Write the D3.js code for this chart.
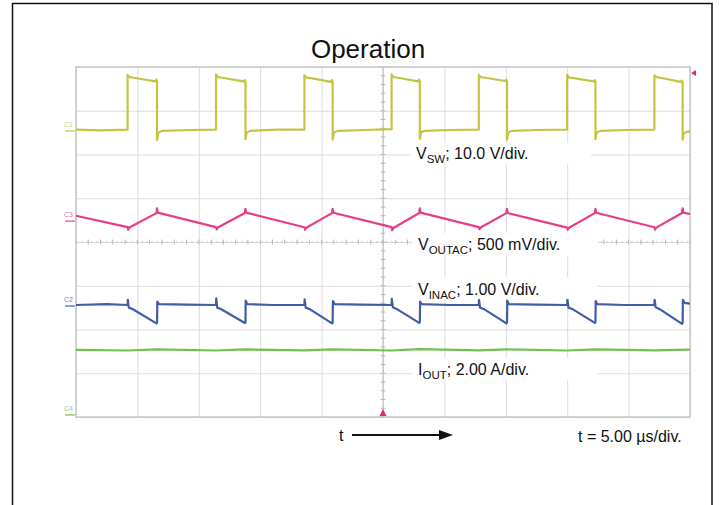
<!DOCTYPE html>
<html>
<head>
<meta charset="utf-8">
<script src="https://cdn.jsdelivr.net/npm/d3@7"></script>
<style>
body { margin: 0; background: #fff; }
svg text { font-family: "Liberation Sans", Arial, sans-serif; }
</style>
</head>
<body>
<script>
var w = 719;
var h = 505;

// scope grid: 10 div of 5 us, 8 div vertical
var timeGrid = [0, 5, 10, 15, 20, 25, 30, 35, 40, 45, 50];
var divGrid = [-4, -3, -2, -1, 0, 1, 2, 3, 4];

// C1 switch node, volts  [t us, V]
var vswPoints = [
  [0, 0.1], [2.0, -0.1], [4.2, 0.1], [4.2, 12.6], [4.35, 12.1], [4.6, 12.0], [6.45, 11.1], [6.55, 11.5], [6.6, 11.0], [6.6, -2.3], [6.7, -0.6], [7.0, -0.2], [9.5, 0.0],
  [11.4, 0.1], [11.4, 12.7], [11.55, 12.1], [11.8, 12.0], [13.65, 11.1], [13.75, 11.4], [13.8, 11.0], [13.8, -2.1], [13.9, -0.6], [14.2, -0.2], [16.5, 0.1],
  [18.6, 0.1], [18.6, 12.5], [18.75, 12.0], [19.0, 11.9], [20.75, 11.0], [20.85, 11.4], [20.9, 11.0], [20.9, -2.2], [21.0, -0.6], [21.3, -0.2], [23.5, 0.0],
  [25.7, 0.2], [25.7, 12.7], [25.85, 12.1], [26.1, 12.0], [27.85, 11.1], [27.95, 11.5], [28.0, 11.0], [28.0, -2.0], [28.1, -0.5], [28.4, -0.2], [30.5, 0.0],
  [32.8, 0.1], [32.8, 12.6], [32.95, 12.1], [33.2, 12.0], [34.95, 11.2], [35.05, 11.5], [35.1, 11.0], [35.1, -2.2], [35.2, -0.6], [35.5, -0.2], [37.5, 0.0],
  [40.0, 0.1], [40.0, 12.6], [40.15, 12.0], [40.4, 11.9], [42.15, 11.1], [42.25, 11.4], [42.3, 11.0], [42.3, -2.1], [42.4, -0.6], [42.7, -0.2], [44.8, 0.0],
  [47.1, 0.1], [47.1, 12.5], [47.25, 12.1], [47.5, 12.0], [49.25, 11.0], [49.35, 11.3], [49.4, 10.9], [49.4, -2.2], [49.5, -0.7], [49.8, -0.4], [50, -0.3]
];

// C3 output ripple, mV
var voutacPoints = [
  [0, 50], [4.2, -80], [4.25, -110], [4.35, -85], [6.55, 80], [6.6, 135], [6.65, 85],
  [11.4, -80], [11.45, -105], [11.55, -85], [13.75, 82], [13.8, 130], [13.85, 85],
  [18.6, -82], [18.65, -110], [18.75, -88], [20.85, 80], [20.9, 130], [20.95, 84],
  [25.7, -80], [25.75, -115], [25.85, -90], [27.95, 82], [28.0, 135], [28.05, 85],
  [32.8, -80], [32.85, -105], [32.95, -85], [35.05, 80], [35.1, 130], [35.15, 82],
  [40.0, -85], [40.05, -110], [40.15, -88], [42.25, 80], [42.3, 128], [42.35, 84],
  [47.1, -82], [47.15, -108], [47.25, -86], [49.35, 82], [49.4, 135], [49.45, 85], [50, 70]
];

// C2 input ripple, volts
var vinacPoints = [
  [0, 0.0], [2.5, 0.02], [4.2, 0.0], [4.22, 0.12], [4.3, -0.06], [4.6, -0.09], [6.55, -0.42], [6.6, -0.40], [6.62, 0.08], [6.75, 0.02], [9.0, 0.01],
  [11.4, 0.0], [11.42, 0.15], [11.5, -0.06], [11.8, -0.09], [13.75, -0.41], [13.8, -0.40], [13.82, 0.10], [13.95, 0.02], [16.0, 0.0],
  [18.6, 0.0], [18.62, 0.13], [18.7, -0.06], [19.0, -0.09], [20.85, -0.42], [20.9, -0.40], [20.92, 0.09], [21.05, 0.02], [23.2, 0.01],
  [25.7, 0.0], [25.72, 0.14], [25.8, -0.05], [26.1, -0.09], [27.95, -0.41], [28.0, -0.39], [28.02, 0.08], [28.15, 0.02], [30.4, 0.0],
  [32.8, 0.0], [32.82, 0.12], [32.9, -0.06], [33.2, -0.09], [35.05, -0.42], [35.1, -0.40], [35.12, 0.10], [35.25, 0.02], [37.5, 0.01],
  [40.0, 0.0], [40.02, 0.13], [40.1, -0.06], [40.4, -0.09], [42.25, -0.41], [42.3, -0.40], [42.32, 0.09], [42.45, 0.02], [44.6, 0.0],
  [47.1, 0.0], [47.12, 0.12], [47.2, -0.05], [47.5, -0.09], [49.35, -0.43], [49.4, -0.40], [49.42, 0.12], [49.55, 0.05], [50, 0.03]
];

// C4 output current, amps
var ioutPoints = [
  [0, 2.93], [4.2, 2.90], [6.6, 2.95], [11.4, 2.90], [13.8, 2.95], [18.6, 2.91], [20.9, 2.95],
  [25.7, 2.90], [28.0, 2.96], [32.8, 2.91], [35.1, 2.95], [40.0, 2.90], [42.3, 2.95], [47.1, 2.91], [50, 2.94]
];

var channelNames = ["C1", "C3", "C2", "C4"];

var x0 = 76, x1 = 690, y0 = 67, y1 = 417;
var cx = (x0 + x1) / 2, cy = (y0 + y1) / 2;

var x = d3.scaleLinear().domain([0, 50]).range([x0, x1]);
var yDiv = d3.scaleLinear().domain([-4, 4]).range([y1, y0]);

// offset = ground marker position in div, perDiv = volts (or mV, A) per div
var channels = [
  { name: channelNames[0], data: vswPoints, perDiv: 10, offset: 2.56, color: "#bcbf2e" },
  { name: channelNames[1], data: voutacPoints, perDiv: 500, offset: 0.5, color: "#e4287a" },
  { name: channelNames[2], data: vinacPoints, perDiv: 1, offset: -1.44, color: "#2e4b9c" },
  { name: channelNames[3], data: ioutPoints, perDiv: 2, offset: -3.93, color: "#62b83e" }
];

var svg = d3.select("body").append("svg").attr("width", w).attr("height", h);

// outer frame
svg.append("rect").attr("x", 12.5).attr("y", 3.5).attr("width", 699.5).attr("height", 520)
  .attr("fill", "none").attr("stroke", "#111").attr("stroke-width", 1.5);

svg.append("text").attr("x", 368).attr("y", 58).attr("text-anchor", "middle")
  .attr("font-size", 26).attr("fill", "#111").text("Operation");

// grid
var gx = svg.append("g").attr("transform", "translate(0," + y1 + ")")
  .call(d3.axisBottom(x).tickValues(timeGrid).tickSize(-(y1 - y0)).tickFormat(""));
var gy = svg.append("g").attr("transform", "translate(" + x0 + ",0)")
  .call(d3.axisLeft(yDiv).tickValues(divGrid).tickSize(-(x1 - x0)).tickFormat(""));
[gx, gy].forEach(function (g) {
  g.select(".domain").remove();
  g.selectAll("line").attr("stroke", "#dcdcdc").attr("stroke-width", 1);
});

// center cross with minor ticks
var minorT = d3.range(0, 50.01, 1);
var minorD = d3.range(-4, 4.01, 0.2);
svg.append("line").attr("x1", x0).attr("x2", x1).attr("y1", cy).attr("y2", cy)
  .attr("stroke", "#c4c4c4").attr("stroke-dasharray", "2,3");
svg.append("line").attr("x1", cx).attr("x2", cx).attr("y1", y0).attr("y2", y1)
  .attr("stroke", "#bdbdbd");
svg.append("g").selectAll("line").data(minorT).enter().append("line")
  .attr("x1", function (d) { return x(d); }).attr("x2", function (d) { return x(d); })
  .attr("y1", cy - 2.5).attr("y2", cy + 2.5).attr("stroke", "#b8b8b8");
svg.append("g").selectAll("line").data(minorD).enter().append("line")
  .attr("y1", function (d) { return yDiv(d); }).attr("y2", function (d) { return yDiv(d); })
  .attr("x1", cx - 2.5).attr("x2", cx + 2.5).attr("stroke", "#b8b8b8");

// border
svg.append("rect").attr("x", x0).attr("y", y0).attr("width", x1 - x0).attr("height", y1 - y0)
  .attr("fill", "none").attr("stroke", "#c6c6c6").attr("stroke-width", 1.5);

// traces
channels.forEach(function (ch) {
  var line = d3.line()
    .x(function (d) { return x(d[0]); })
    .y(function (d) { return yDiv(ch.offset + d[1] / ch.perDiv); });
  svg.append("path").datum(ch.data).attr("d", line)
    .attr("fill", "none").attr("stroke", ch.color).attr("stroke-width", 2.2)
    .attr("stroke-linejoin", "round").attr("opacity", 0.9);

  var gy0 = yDiv(ch.offset);
  svg.append("line").attr("x1", x0 - 11).attr("x2", x0 - 1).attr("y1", gy0 + 1).attr("y2", gy0 + 1)
    .attr("stroke", ch.color).attr("stroke-width", 1.5).attr("opacity", 0.7);
  svg.append("text").attr("x", x0 - 12).attr("y", gy0 - 3).attr("font-size", 7)
    .attr("fill", ch.color).attr("opacity", 0.7).text(ch.name);
});

// trigger markers
svg.append("path").attr("d", "M" + cx + "," + (y1 - 8) + "l-3.5,7h7z").attr("fill", "#e4287a");
svg.append("path").attr("d", "M" + (x1 + 1) + "," + 73 + "l5,-3v6z").attr("fill", "#e4287a");

// labels with white boxes
var labels = [
  { main: "V", sub: "SW", rest: "; 10.0 V/div.", x: 416, y: 159, box: [411, 143, 180, 21] },
  { main: "V", sub: "OUTAC", rest: "; 500 mV/div.", x: 418, y: 250, box: [412, 233, 186, 23] },
  { main: "V", sub: "INAC", rest: "; 1.00 V/div.", x: 418, y: 295, box: [412, 277, 185, 22] },
  { main: "I", sub: "OUT", rest: "; 2.00 A/div.", x: 418, y: 375, box: [412, 358, 185, 22] }
];
labels.forEach(function (l) {
  svg.append("rect").attr("x", l.box[0]).attr("y", l.box[1]).attr("width", l.box[2]).attr("height", l.box[3])
    .attr("fill", "#fff");
  var t = svg.append("text").attr("x", l.x).attr("y", l.y).attr("font-size", 16).attr("fill", "#111");
  t.append("tspan").text(l.main);
  t.append("tspan").attr("font-size", 11.5).attr("dy", 4).text(l.sub);
  t.append("tspan").attr("dy", -4).text(l.rest);
});

// time arrow
svg.append("text").attr("x", 339).attr("y", 441).attr("font-size", 16).attr("fill", "#111").text("t");
svg.append("line").attr("x1", 352).attr("x2", 440).attr("y1", 435).attr("y2", 435)
  .attr("stroke", "#111").attr("stroke-width", 2);
svg.append("path").attr("d", "M453,435l-14,-5v10z").attr("fill", "#111");
svg.append("text").attr("x", 578).attr("y", 442).attr("font-size", 16).attr("fill", "#111")
  .text("t = 5.00 \u00b5s/div.");
</script>
</body>
</html>
